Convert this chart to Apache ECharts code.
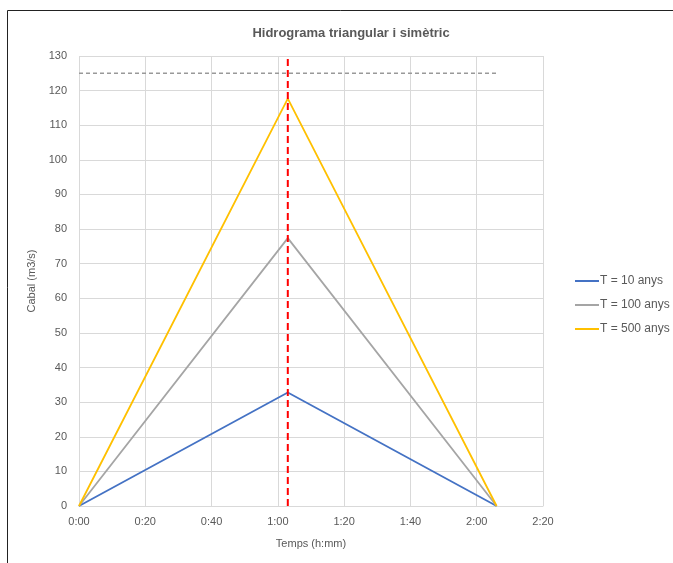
<!DOCTYPE html>
<html><head><meta charset="utf-8">
<script src="https://cdn.jsdelivr.net/npm/echarts@6/dist/echarts.min.js"></script>
<style>html,body{margin:0;padding:0;background:#fff}#c{width:673px;height:563px}</style>
</head><body><div id="c"></div>
<script>
// time in minutes
const times = [0, 63, 126];
const seriesNames = ['T = 10 anys', 'T = 100 anys', 'T = 500 anys'];
const q10 = [0, 32.8, 0];
const q100 = [0, 77.4, 0];
const q500 = [0, 117.7, 0];
const peakTime = 63;
const refLevel = 125;
const refLine = [[0, 125], [126, 125]];
const xTicks = [0, 20, 40, 60, 80, 100, 120, 140];

const font = 'Liberation Sans';
const txt = '#595959';
function fmt(v){const h=Math.floor(v/60),m=Math.round(v%60);return h+':'+(m<10?'0':'')+m;}
const chart = echarts.init(document.getElementById('c'));
chart.setOption({
  animation:false,
  textStyle:{fontFamily:font},
  title:{text:'Hidrograma triangular i simètric',left:346,top:22,textAlign:'center',
    textStyle:{fontFamily:font,fontSize:13,fontWeight:'bold',color:txt}},
  graphic:[{type:'rect',shape:{x:7.5,y:10.5,width:700,height:600},style:{fill:'none',stroke:'#222',lineWidth:1},silent:true}],
  legend:{orient:'vertical',left:570,top:269,itemGap:10,itemWidth:24,itemHeight:2,
    icon:'rect',textStyle:{fontFamily:font,fontSize:12,color:txt,padding:[0,0,0,-4],lineHeight:14},
    data:seriesNames},
  grid:{left:79,right:130,top:56,bottom:57},
  xAxis:{type:'value',min:0,max:140,interval:20,
    name:'Temps (h:mm)',nameLocation:'middle',nameGap:32,
    nameTextStyle:{fontFamily:font,fontSize:11,color:txt},
    axisLine:{lineStyle:{color:'#d9d9d9'}},axisTick:{show:false},
    axisLabel:{formatter:fmt,color:txt,fontSize:11,margin:10},
    splitLine:{show:true,lineStyle:{color:'#d9d9d9'}}},
  yAxis:{type:'value',min:0,max:130,interval:10,
    name:'Cabal (m3/s)',nameLocation:'middle',nameGap:40,
    nameTextStyle:{fontFamily:font,fontSize:11,color:txt},
    axisLine:{show:false},axisTick:{show:false},
    axisLabel:{color:txt,fontSize:11,margin:12},
    splitLine:{lineStyle:{color:'#d9d9d9'}}},
  series:[
    {name:seriesNames[0],type:'line',data:times.map((t,i)=>[t,q10[i]]),symbol:'none',lineStyle:{color:'#4472C4',width:1.8},itemStyle:{color:'#4472C4'}},
    {name:seriesNames[1],type:'line',data:times.map((t,i)=>[t,q100[i]]),symbol:'none',lineStyle:{color:'#A5A5A5',width:1.8},itemStyle:{color:'#A5A5A5'}},
    {name:seriesNames[2],type:'line',data:times.map((t,i)=>[t,q500[i]]),symbol:'none',lineStyle:{color:'#FFC000',width:1.8},itemStyle:{color:'#FFC000'}},
    {name:'ref',type:'line',data:refLine,symbol:'none',lineStyle:{color:'#999',width:1.5,type:[4,3]},z:1},
    {name:'peak',type:'line',data:[[peakTime,0],[peakTime,130]],symbol:'none',lineStyle:{color:'#FF0000',width:2,type:[7,4]},z:5}
  ]
});
</script></body></html>
